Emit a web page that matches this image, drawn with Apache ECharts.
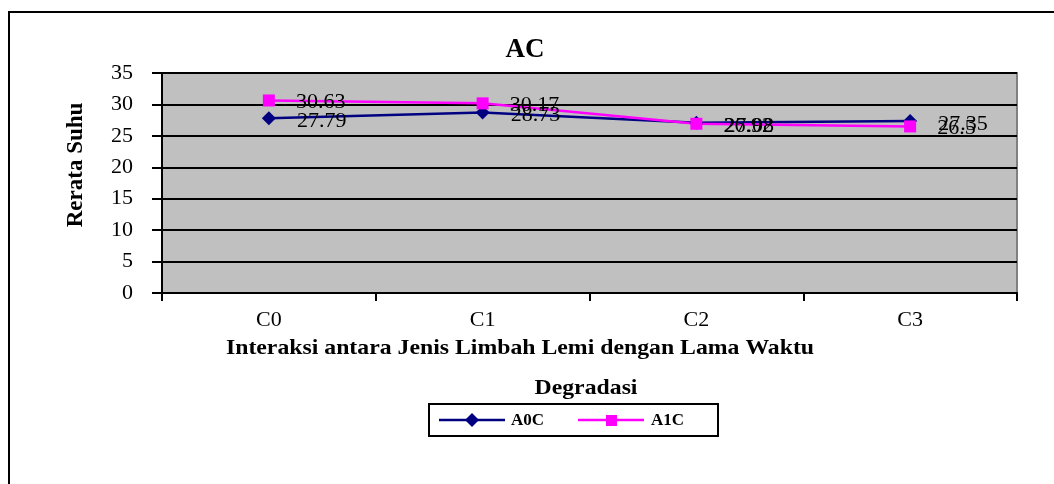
<!DOCTYPE html>
<html><head><meta charset="utf-8">
<script src="https://cdn.jsdelivr.net/npm/echarts@6/dist/echarts.min.js"></script>
<style>html,body{margin:0;padding:0;background:#fff}#c{width:1054px;height:484px}</style>
</head><body><div id="c"></div>
<script>
var categories = ['C0', 'C1', 'C2', 'C3'];
var seriesA0C = [27.79, 28.73, 27.08, 27.35];
var seriesA1C = [30.63, 30.17, 26.92, 26.5];
var yTicks = [0, 5, 10, 15, 20, 25, 30, 35];
var titleText = 'AC';
var yName = 'Rerata Suhu';
var xNameLine1 = 'Interaksi antara Jenis Limbah Lemi dengan Lama Waktu';
var xNameLine2 = 'Degradasi';

var F = '"Liberation Serif","Times New Roman",serif';
var chart = echarts.init(document.getElementById('c'), null, {renderer: 'canvas'});
var lbl = {show: true, position: 'right', distance: 21, color: '#000', fontFamily: F, fontSize: 22, offset: [0, 3]};
chart.setOption({
  backgroundColor: '#fff',
  animation: false,
  title: {text: titleText, left: 520, top: 32, textAlign: 'center',
    textStyle: {fontFamily: F, fontSize: 27, fontWeight: 'bold', color: '#000'}},
  grid: {left: 162, right: 37, top: 73, bottom: 191, show: true,
    backgroundColor: '#C0C0C0', borderColor: '#808080', borderWidth: 2},
  legend: {show: false},
  xAxis: {type: 'category', data: categories, boundaryGap: true,
    axisLine: {lineStyle: {color: '#000', width: 2}},
    axisTick: {show: true, length: 8, lineStyle: {color: '#000', width: 2}},
    axisLabel: {color: '#000', fontFamily: F, fontSize: 22, margin: 16},
    splitLine: {show: false}},
  yAxis: {type: 'value', min: yTicks[0], max: yTicks[yTicks.length - 1], interval: yTicks[1] - yTicks[0],
    axisLine: {show: true, lineStyle: {color: '#000', width: 2}},
    axisTick: {show: true, length: 10, lineStyle: {color: '#000', width: 2}},
    axisLabel: {color: '#000', fontFamily: F, fontSize: 22, margin: 29},
    splitLine: {show: true, lineStyle: {color: '#000', width: 2}}},
  series: [
    {name: 'A0C', type: 'line', data: seriesA0C, symbol: 'diamond', symbolSize: 14,
      lineStyle: {color: '#000080', width: 2.5}, itemStyle: {color: '#000080'}, label: lbl},
    {name: 'A1C', type: 'line', data: seriesA1C, symbol: 'rect', symbolSize: 12,
      lineStyle: {color: '#FF00FF', width: 2.5}, itemStyle: {color: '#FF00FF'},
      label: Object.assign({}, lbl, {offset: [0, 2]})}
  ],
  graphic: [
    {type: 'rect', z: -10, shape: {x: 9, y: 12, width: 1100, height: 600},
      style: {fill: 'none', stroke: '#000', lineWidth: 2}},
    {type: 'text', x: 76, y: 165, rotation: Math.PI / 2, style: {text: yName, fontFamily: F, fontSize: 23, fontWeight: 'bold',
      fill: '#000', align: 'center', verticalAlign: 'middle'}},
    {type: 'text', x: 520, y: 348, scaleX: 1.08, style: {text: xNameLine1, fontFamily: F, fontSize: 22, fontWeight: 'bold',
      fill: '#000', align: 'center', verticalAlign: 'middle'}},
    {type: 'text', x: 586, y: 388, scaleX: 1.08, style: {text: xNameLine2, fontFamily: F, fontSize: 22, fontWeight: 'bold',
      fill: '#000', align: 'center', verticalAlign: 'middle'}},
    {type: 'rect', shape: {x: 429, y: 404, width: 289, height: 32},
      style: {fill: '#fff', stroke: '#000', lineWidth: 2}},
    {type: 'line', shape: {x1: 439, y1: 420, x2: 505, y2: 420}, style: {stroke: '#000080', lineWidth: 2.5}},
    {type: 'polygon', shape: {points: [[472, 413], [479, 420], [472, 427], [465, 420]]}, style: {fill: '#000080'}},
    {type: 'text', x: 511, y: 421, style: {text: 'A0C', fontFamily: F, fontSize: 17, fontWeight: 'bold', fill: '#000', verticalAlign: 'middle'}},
    {type: 'line', shape: {x1: 578, y1: 420, x2: 644, y2: 420}, style: {stroke: '#FF00FF', lineWidth: 2.5}},
    {type: 'rect', shape: {x: 606, y: 415, width: 11, height: 11}, style: {fill: '#FF00FF'}},
    {type: 'text', x: 651, y: 421, style: {text: 'A1C', fontFamily: F, fontSize: 17, fontWeight: 'bold', fill: '#000', verticalAlign: 'middle'}}
  ]
});
</script></body></html>
